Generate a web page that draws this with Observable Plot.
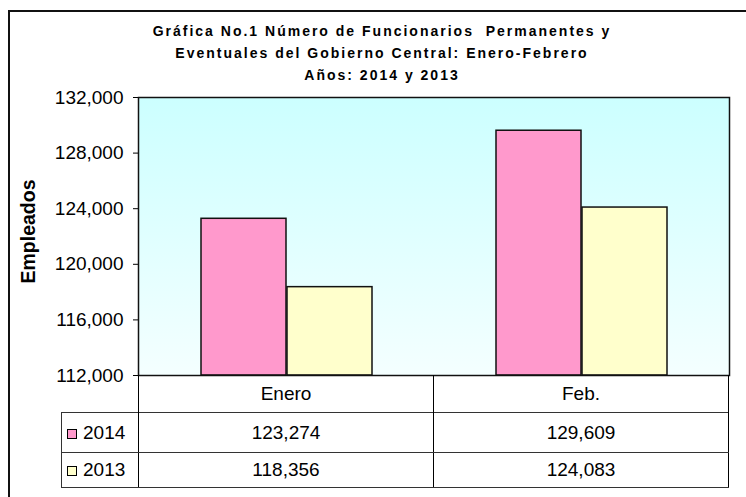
<!DOCTYPE html>
<html>
<head>
<meta charset="utf-8">
<script src="https://cdn.jsdelivr.net/npm/d3@7"></script>
<script src="https://cdn.jsdelivr.net/npm/@observablehq/plot@0.6"></script>
<style>
  html, body { margin: 0; padding: 0; background: #fff; overflow: hidden; }
  #wrap { position: relative; width: 746px; height: 497px; font-family: "Liberation Sans", Arial, sans-serif; }
  #outer { position: absolute; left: 8px; top: 10px; width: 800px; height: 600px; border-left: 2px solid #111; border-top: 2px solid #111; }
  #title { position: absolute; left: 9px; width: 746px; top: 20px; text-align: center; font-weight: bold; font-size: 14px; line-height: 22px; letter-spacing: 2px; white-space: pre; color: #000; }
  #chart { position: absolute; left: 0; top: 85px; }
  #tbl { position: absolute; left: 61px; top: 375px; border-collapse: collapse; font-size: 19px; color: #000; }
  #tbl td { padding: 0; text-align: center; }
  #tbl tr.head td { height: 37px; }
  #tbl tr.r1 td { height: 39px; }
  #tbl tr.r2 td { height: 34px; }
  #tbl td.lab { width: 76px; text-align: left; }
  #tbl td.val { width: 294px; }
  .sw { display: inline-block; width: 8px; height: 8px; border: 1px solid #000; margin: 0 6px 0 5px; vertical-align: 0px; }
</style>
</head>
<body>
<div id="wrap">
  <div id="outer"></div>
  <div id="title"></div>
  <div id="chart"></div>
  <table id="tbl"></table>
</div>
<script>
const titleLines = [
  "Gráfica No.1 Número de Funcionarios  Permanentes y",
  "Eventuales del Gobierno Central: Enero-Febrero",
  "Años: 2014 y 2013"
];
const months = ["Enero", "Feb."];
const years = ["2014", "2013"];
const values2014 = [123274, 129609];
const values2013 = [118356, 124083];
const yTicks = [112000, 116000, 120000, 124000, 128000, 132000];
const yDomain = [112000, 132000];
const colors = ["#ff99cc", "#ffffcc"];
const yLabel = "Empleados";

const fmt = d3.format(",");
document.getElementById("title").innerHTML = titleLines.map(s => `<div>${s}</div>`).join("");

const d2014 = months.map((m, i) => ({month: m, year: "2014", value: values2014[i]}));
const d2013 = months.map((m, i) => ({month: m, year: "2013", value: values2013[i]}));

const plot = Plot.plot({
  width: 746,
  height: 310,
  marginTop: 12,
  marginBottom: 20,
  marginLeft: 138,
  marginRight: 17,
  style: {fontFamily: "Liberation Sans, Arial, sans-serif", fontSize: "19px", color: "#000", background: "transparent", overflow: "visible"},
  x: {domain: months, padding: 0, axis: null},
  y: {domain: yDomain, ticks: yTicks, tickFormat: fmt, tickSize: 5, tickPadding: 10, label: null},
  color: {domain: years, range: colors},
  marks: [
    Plot.frame({fill: "url(#bgGrad)"}),
    Plot.barY(d2014, {x: "month", y1: yDomain[0], y2: "value", fill: "year", stroke: "#111", strokeWidth: 1.5, insetLeft: 62, insetRight: 148}),
    Plot.barY(d2013, {x: "month", y1: yDomain[0], y2: "value", fill: "year", stroke: "#111", strokeWidth: 1.5, insetLeft: 148, insetRight: 62}),
    Plot.frame({stroke: "#111", strokeWidth: 1.5}),
    Plot.text([yLabel], {frameAnchor: "left", textAnchor: "middle", rotate: -90, dx: -110, dy: -5, fontWeight: "bold", fontSize: 19.5, fill: "#000"})
  ]
});

const svg = d3.select(plot);
const grad = svg.insert("defs", ":first-child").append("linearGradient")
  .attr("id", "bgGrad").attr("x1", 0).attr("y1", 0).attr("x2", 0).attr("y2", 1);
grad.append("stop").attr("offset", "0%").attr("stop-color", "#ccffff");
grad.append("stop").attr("offset", "100%").attr("stop-color", "#f4ffff");
document.getElementById("chart").appendChild(plot);

// data table below the chart
const vline = "1px solid #000";
const hline = "1px solid #333";
const tbl = document.getElementById("tbl");
let html = `<tr class="head"><td class="lab"></td>` +
  months.map(m => `<td class="val" style="border-left:${vline};border-right:${vline}">${m}</td>`).join("") + `</tr>`;
const rows = [[years[0], values2014, colors[0], "r1"], [years[1], values2013, colors[1], "r2"]];
for (const [yr, vals, col, cls] of rows) {
  html += `<tr class="${cls}"><td class="lab" style="border-left:${hline};border-top:${hline};border-bottom:${hline};border-right:${vline}"><span class="sw" style="background:${col}"></span>${yr}</td>` +
    vals.map(v => `<td class="val" style="border-top:${hline};border-bottom:${hline};border-left:${vline};border-right:${vline}">${fmt(v)}</td>`).join("") + `</tr>`;
}
tbl.innerHTML = html;
</script>
</body>
</html>
